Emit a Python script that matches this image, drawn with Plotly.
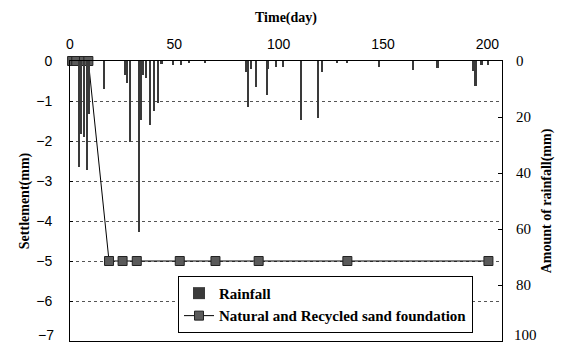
import plotly.graph_objects as go

# Settlement series
settle_day = [1, 3, 6.7, 8.8, 18.7, 25.2, 32, 52.6, 69.7, 90.4, 132.9, 200.5]
settle_mm = [0, 0, 0, 0, -5, -5, -5, -5, -5, -5, -5, -5]

# Rainfall series
rain_day = [4.3, 5.5, 7.0, 8.3, 9.3, 16.4, 26.5, 27.5, 28.7, 33, 34, 35, 36.5, 38.3, 40.2,
            42.3, 44, 49.4, 53.4, 57, 65, 84.5, 85.5, 87, 89.3, 94.4, 95, 98.9, 102.2,
            110.9, 118.8, 120.7, 128, 133, 148.3, 164.6, 176.2, 193.5, 194.4, 197.3, 200.5]
rain_mm = [38, 26, 27, 39, 19, 10, 5, 8, 29, 61, 21, 5, 6, 23, 18,
           15, 1, 1.5, 1.5, 0.8, 0.8, 4, 16.3, 3, 9.4, 12, 3, 2, 2,
           21, 20.4, 4, 0.5, 0.8, 2, 3.2, 2.6, 3.4, 9.1, 1.5, 1.5]

x_ticks = [0, 50, 100, 150, 200]
left_ticks = [0, -1, -2, -3, -4, -5, -6, -7]
right_ticks = [0, 20, 40, 60, 80, 100]

serif = "Liberation Serif"
sans = "Liberation Sans"

fig = go.Figure()
fig.add_trace(go.Bar(
    x=rain_day, y=rain_mm, yaxis="y2", name="Rainfall",
    width=0.8, marker=dict(color="#3a3a3a", line=dict(width=0)),
))
fig.add_trace(go.Scatter(
    x=settle_day, y=settle_mm, name="Natural and Recycled sand foundation",
    mode="lines+markers", cliponaxis=False,
    line=dict(color="black", width=1),
    marker=dict(symbol="square", size=9, color="#5a5a5a", line=dict(color="#222", width=1)),
))

# bottom-most tick labels sit slightly raised in the reference (as annotations)
left_text = [str(v).replace("-", "\u2212") if v != left_ticks[-1] else "" for v in left_ticks]
right_text = [str(v) if v != right_ticks[-1] else "" for v in right_ticks]

fig.update_layout(
    width=570, height=347,
    margin=dict(l=62, r=76, t=53, b=14),
    paper_bgcolor="white", plot_bgcolor="white",
    showlegend=True,
    legend=dict(
        x=0.25, y=0.029, xanchor="left", yanchor="bottom",
        bgcolor="white", bordercolor="black", borderwidth=1,
        font=dict(family=serif, size=15, color="black", weight="bold"),
        tracegroupgap=0, itemwidth=30,
    ),
    xaxis=dict(
        side="top", range=[0, 207], tickvals=x_ticks, automargin=False,
        showline=True, linecolor="black", linewidth=1, mirror=True,
        ticks="", showgrid=False, zeroline=False, ticklabelstandoff=5,
        tickfont=dict(family=sans, size=14, color="black"),
        title=dict(text="Time(day)", font=dict(family=serif, size=14, color="black", weight="bold"), standoff=10),
    ),
    yaxis=dict(
        range=[-7, 0], tickvals=left_ticks, ticktext=left_text, automargin=False,
        showline=True, linecolor="black", linewidth=1,
        ticks="inside", ticklen=3, tickcolor="black", ticklabelstandoff=14,
        showgrid=True, gridcolor="#555", griddash="dot", gridwidth=1,
        zeroline=False,
        tickfont=dict(family=sans, size=14, color="black"),
        title=dict(text="Settlement(mm)", font=dict(family=serif, size=14, color="black", weight="bold"), standoff=3),
    ),
    yaxis2=dict(
        overlaying="y", side="right", range=[100, 0], tickvals=right_ticks, ticktext=right_text,
        automargin=False,
        showline=True, linecolor="black", linewidth=1,
        ticks="inside", ticklen=4, tickcolor="black", ticklabelstandoff=10,
        showgrid=False, zeroline=False,
        tickfont=dict(family=serif, size=15, color="black"),
        title=dict(text="Amount of rainfall(mm)", font=dict(family=serif, size=14, color="black", weight="bold"), standoff=11),
    ),
    bargap=0,
)

fig.add_annotation(
    xref="paper", yref="y", x=0, y=left_ticks[-1], text="\u2212" + str(abs(left_ticks[-1])),
    xanchor="right", yanchor="middle", xshift=-14, yshift=6, showarrow=False,
    font=dict(family=sans, size=14, color="black"),
)
fig.add_annotation(
    xref="paper", yref="y2", x=1, y=right_ticks[-1], text=str(right_ticks[-1]),
    xanchor="left", yanchor="middle", xshift=10, yshift=6, showarrow=False,
    font=dict(family=serif, size=15, color="black"),
)

fig.write_html("out.html")
